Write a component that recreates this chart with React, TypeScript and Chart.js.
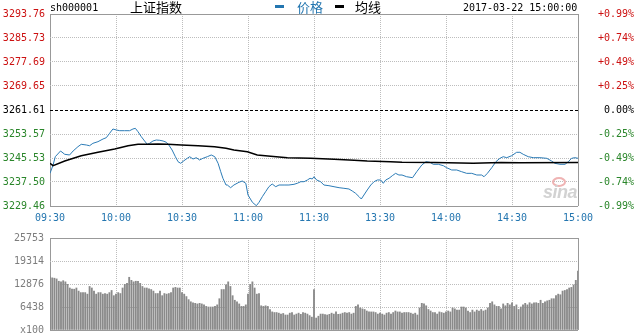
import React, { useEffect, useRef } from 'react';
import { Chart, registerables } from 'chart.js';

Chart.register(...registerables);

// ---------- data ----------
const stockCode = 'sh000001';
const stockName = '上证指数';
const legendPrice = '价格';
const legendAvg = '均线';
const stampText = '2017-03-22 15:00:00';

const PREV_CLOSE = 3261.61;
const priceTicks = [3229.46, 3237.5, 3245.53, 3253.57, 3261.61, 3269.65, 3277.69, 3285.73, 3293.76];
const pctLabels = ['-0.99%', '-0.74%', '-0.49%', '-0.25%', '0.00%', '+0.25%', '+0.49%', '+0.74%', '+0.99%'];
const timeTicks = [0, 30, 60, 90, 120, 150, 180, 210, 240];
const timeLabels = ['09:30', '10:00', '10:30', '11:00', '11:30', '13:30', '14:00', '14:30', '15:00'];

// minute index (0 = 09:30, 120 = 11:30/13:00, 240 = 15:00)
const priceMinutes = [
  0, 1.4, 2.4, 4.8, 6.7, 8.9, 10.5, 12.7, 14.2, 16.5, 18, 19.5, 21.8, 24.1, 25.6, 27.1, 28.6, 30.2, 31.7, 33.9,
  36.2, 37.7, 38.8, 40, 41.5, 43, 44.2, 45.3, 46.8, 48.3, 49.9, 51.4, 52.9, 54, 55.5, 57, 58.2, 59.4, 60.9, 62.4,
  63.5, 65, 66.5, 68, 69.5, 71.5, 73.3, 74.9, 76.4, 77.6, 78.6, 80, 80.6, 82.1, 83.6, 85.9, 87.4, 89, 90, 92,
  93.8, 95, 96.5, 98, 99.5, 101, 102.6, 104.1, 106.4, 108.6, 110.9, 112.4, 114, 115.5, 117, 118.2, 119.2, 120, 121.2, 123,
  124.5, 126.8, 129.1, 131.4, 133.6, 135.9, 137.4, 138.9, 140.5, 141.5, 142.7, 144.2, 145.8, 147.3, 148.8, 150.3, 151.5, 152.6, 154.1, 155.6,
  157.1, 158.6, 160, 162.1, 164.8, 166.7, 169, 170.9, 172.7, 174.2, 176.5, 178.8, 180.3, 182.6, 184.9, 187.1, 189.4, 191.7, 194, 196.2,
  197.3, 198.8, 200.8, 202.7, 204.5, 206, 207.6, 209.9, 212.1, 213.6, 215.1, 217.4, 219.7, 222.7, 225.8, 228, 229.5, 231.8, 234.1, 235.6,
  237.1, 238.6, 240,
];
const priceValues = [
  3240.4, 3243.19, 3245.97, 3247.88, 3246.77, 3246.54, 3247.88, 3249.32, 3250.12, 3249.89, 3249.65, 3250.45, 3251.0, 3251.9, 3252.34, 3253.81, 3255.25, 3254.91, 3254.68, 3254.68,
  3254.68, 3255.25, 3255.47, 3254.34, 3252.67, 3251.23, 3250.12, 3250.46, 3251.23, 3251.56, 3251.46, 3251.23, 3250.79, 3249.89, 3248.21, 3245.97, 3244.3, 3243.76, 3244.63, 3245.43,
  3245.97, 3245.2, 3245.64, 3244.87, 3245.43, 3245.97, 3246.54, 3245.97, 3243.76, 3240.95, 3238.74, 3236.49, 3236.49, 3235.59, 3236.49, 3237.4, 3237.83, 3237.06, 3233.14, 3230.7,
  3229.56, 3230.7, 3232.57, 3234.25, 3235.92, 3236.83, 3235.92, 3236.49, 3236.49, 3236.49, 3236.72, 3237.06, 3237.6, 3237.6, 3238.17, 3238.74, 3238.5, 3239.27, 3238.17, 3237.6,
  3236.49, 3236.26, 3235.92, 3235.59, 3235.39, 3235.15, 3234.48, 3233.71, 3232.57, 3231.8, 3233.14, 3234.82, 3236.49, 3237.6, 3238.17, 3238.17, 3237.06, 3238.17, 3238.74, 3239.61,
  3240.4, 3239.84, 3239.84, 3239.27, 3238.94, 3240.95, 3243.19, 3244.3, 3244.09, 3243.43, 3243.43, 3242.96, 3242.29, 3241.52, 3241.52, 3240.95, 3240.4, 3240.4, 3239.84, 3239.84,
  3239.27, 3240.4, 3242.29, 3244.3, 3245.43, 3245.97, 3245.64, 3246.31, 3247.44, 3247.44, 3246.77, 3245.97, 3245.64, 3245.64, 3245.43, 3244.53, 3243.76, 3243.43, 3243.43, 3244.3,
  3245.43, 3245.64, 3245.43,
];

const avgMinutes = [0, 1.4, 6.7, 14.2, 21.8, 29.4, 35.5, 40, 44.5, 49.1, 53.6, 59.7, 67.3, 74.8, 80, 83.6, 89.7, 94.2, 100.3, 107.9, 118.5, 129.1, 138.2, 144.2, 154.8, 160, 175, 192.4, 205, 213.6, 240];
const avgValues = [3243.76, 3242.96, 3244.53, 3246.31, 3247.44, 3248.55, 3249.65, 3250.12, 3250.12, 3250.22, 3250.12, 3249.89, 3249.65, 3249.32, 3248.78, 3248.21, 3247.65, 3246.54, 3246.1, 3245.64, 3245.43, 3245.1, 3244.76, 3244.53, 3244.3, 3244.09, 3244.0, 3243.76, 3244.0, 3243.96, 3244.0];

// volume per minute, units of 100 shares (index 0..240)
const volumeValues = [
  14900, 14600, 14500, 14300, 13650, 13480, 13800, 13480, 12790, 11760, 11420, 11420, 11760, 10900, 10470, 10470, 10470, 10040, 12190, 11760,
  10900, 10040, 10470, 10470, 10040, 10210, 10040, 10470, 11070, 9610, 10040, 10470, 10210, 11760, 12790, 13050, 14760, 13900, 13480, 13650,
  13650, 13050, 12190, 11760, 11760, 11500, 11330, 10900, 10210, 10210, 10900, 9610, 10210, 10040, 10210, 10470, 11760, 11930, 11760, 11760,
  10470, 10040, 9360, 8500, 7900, 7640, 7470, 7300, 7470, 7300, 7040, 6610, 6440, 6440, 6440, 6610, 7040, 8760, 11330, 11330,
  12620, 13480, 12190, 9610, 8330, 7900, 7300, 6610, 6610, 7040, 10040, 12790, 13480, 11760, 10040, 10210, 6780, 6610, 6780, 6610,
  5750, 5070, 4890, 4890, 4720, 4460, 4630, 4200, 4200, 4720, 4890, 4200, 4460, 4720, 4380, 4890, 4720, 4460, 4030, 3600,
  11330, 3350, 3860, 4460, 4460, 4290, 4200, 4380, 4720, 4460, 5060, 4380, 4460, 4720, 4890, 4720, 4890, 4460, 4720, 6610,
  7040, 6180, 5920, 5750, 5320, 5060, 5060, 5060, 4890, 4460, 4720, 4460, 4200, 4720, 4890, 4460, 4890, 5320, 5060, 5060,
  4720, 4890, 4890, 4890, 4720, 4460, 4720, 4200, 6180, 7470, 7300, 6780, 5750, 5320, 4890, 4890, 4460, 5060, 4890, 4720,
  5060, 5320, 5060, 6180, 5920, 5580, 5580, 6440, 6440, 6180, 5320, 4890, 5580, 5060, 5580, 5320, 5750, 5320, 5580, 6180,
  7470, 7900, 7040, 6610, 6610, 5920, 7300, 6780, 7470, 7040, 7640, 6610, 7040, 5750, 6440, 7040, 7470, 7040, 7640, 7300,
  7640, 7640, 7470, 8330, 7470, 7900, 8160, 8330, 8760, 8760, 9610, 10040, 9870, 10900, 11070, 11330, 11760, 11930, 12620, 13900,
  16480,
];
const volumeTicks = [0, 6438, 12876, 19314, 25753];
const volumeLabels = ['x100', '6438', '12876', '19314', '25753'];

// ---------- styles ----------
const MONO = "'DejaVu Sans Mono', monospace";
const CJK = "'Noto Sans CJK SC', sans-serif";
const RED = '#cc1111';
const GREEN = '#2a862a';
const BLUE = '#2476b0';
const PRICE_LINE = '#2b7bb6';
const GRID = '#bdbdbd';
const FRAME = '#999999';

export default function App() {
  const priceRef = useRef<HTMLCanvasElement>(null);
  const volRef = useRef<HTMLCanvasElement>(null);

  useEffect(() => {
    document.body.style.margin = '0';
    const font = { family: MONO, size: 10 };
    const colorFor = (v: number) => (v > PREV_CLOSE + 0.001 ? RED : v < PREV_CLOSE - 0.001 ? GREEN : '#000');

    const xAxis = (showLabels: boolean, height: number) => ({
      type: 'linear' as const,
      min: 0,
      max: 240,
      position: 'bottom' as const,
      offset: false,
      afterBuildTicks: (s: any) => {
        s.ticks = timeTicks.map((v) => ({ value: v }));
      },
      afterFit: (s: any) => {
        s.height = height;
      },
      ticks: {
        display: showLabels,
        autoSkip: false,
        maxRotation: 0,
        padding: 6,
        font,
        color: BLUE,
        callback: (_v: any, i: number) => timeLabels[i],
      },
      grid: {
        offset: false,
        drawTicks: false,
        lineWidth: 1,
        color: (c: any) => (c.index === 0 || c.index === timeTicks.length - 1 ? FRAME : GRID),
      },
      border: {
        display: false,
        dash: (c: any) => (c.index === 0 || c.index === timeTicks.length - 1 ? [] : [1, 1]),
      },
    });

    const price = new Chart(priceRef.current!, {
      type: 'line',
      data: {
        datasets: [
          {
            label: legendPrice,
            data: priceMinutes.map((m, i) => ({ x: m, y: priceValues[i] })),
            borderColor: PRICE_LINE,
            borderWidth: 1,
            pointRadius: 0,
            tension: 0,
            order: 2,
          },
          {
            label: legendAvg,
            data: avgMinutes.map((m, i) => ({ x: m, y: avgValues[i] })),
            borderColor: '#000',
            borderWidth: 1.5,
            pointRadius: 0,
            tension: 0,
            order: 1,
          },
        ],
      },
      options: {
        responsive: false,
        animation: false,
        events: [],
        layout: { padding: { top: 14, left: 0, right: 0, bottom: 0 } },
        plugins: { legend: { display: false }, tooltip: { enabled: false }, title: { display: false } },
        scales: {
          x: xAxis(true, 20),
          y: {
            type: 'linear',
            position: 'left',
            min: priceTicks[0],
            max: priceTicks[priceTicks.length - 1],
            afterBuildTicks: (s: any) => {
              s.ticks = priceTicks.map((v) => ({ value: v }));
            },
            afterFit: (s: any) => {
              s.width = 50;
            },
            ticks: {
              autoSkip: false,
              padding: 5,
              font,
              color: (c: any) => colorFor(priceTicks[c.index]),
              callback: (_v: any, i: number) => priceTicks[i].toFixed(2),
            },
            grid: {
              drawTicks: false,
              color: (c: any) =>
                c.index === 4 ? '#000' : c.index === 0 || c.index === priceTicks.length - 1 ? FRAME : GRID,
            },
            border: {
              display: false,
              dash: (c: any) =>
                c.index === 4 ? [3, 2] : c.index === 0 || c.index === priceTicks.length - 1 ? [] : [1, 1],
            },
          },
          y2: {
            type: 'linear',
            position: 'right',
            min: priceTicks[0],
            max: priceTicks[priceTicks.length - 1],
            afterBuildTicks: (s: any) => {
              s.ticks = priceTicks.map((v) => ({ value: v }));
            },
            afterFit: (s: any) => {
              s.width = 56;
            },
            ticks: {
              autoSkip: false,
              padding: 4,
              crossAlign: 'far',
              font,
              color: (c: any) => colorFor(priceTicks[c.index]),
              callback: (_v: any, i: number) => pctLabels[i],
            },
            grid: { display: false, drawTicks: false },
            border: { display: false },
          },
        },
      },
    } as any);

    const volume = new Chart(volRef.current!, {
      type: 'bar',
      data: {
        datasets: [
          {
            label: 'volume',
            data: volumeValues.map((v, i) => ({ x: i, y: v })),
            backgroundColor: '#8a8a8a',
            barThickness: 1.2,
            borderWidth: 0,
          },
        ],
      },
      options: {
        responsive: false,
        animation: false,
        events: [],
        layout: { padding: { top: 8, left: 0, right: 56, bottom: 0 } },
        plugins: { legend: { display: false }, tooltip: { enabled: false } },
        scales: {
          x: { ...xAxis(false, 8), z: 1 },
          y: {
            type: 'linear',
            position: 'left',
            min: 0,
            max: volumeTicks[volumeTicks.length - 1],
            z: 1,
            afterBuildTicks: (s: any) => {
              s.ticks = volumeTicks.map((v) => ({ value: v }));
            },
            afterFit: (s: any) => {
              s.width = 50;
            },
            ticks: {
              autoSkip: false,
              padding: 6,
              font,
              color: '#7d7d7d',
              callback: (_v: any, i: number) => volumeLabels[i],
            },
            grid: {
              drawTicks: false,
              color: (c: any) => (c.index === 0 || c.index === volumeTicks.length - 1 ? FRAME : GRID),
            },
            border: {
              display: false,
              dash: (c: any) => (c.index === 0 || c.index === volumeTicks.length - 1 ? [] : [1, 1]),
            },
          },
        },
      },
    } as any);

    return () => {
      price.destroy();
      volume.destroy();
    };
  }, []);

  const abs = (s: React.CSSProperties): React.CSSProperties => ({ position: 'absolute', whiteSpace: 'nowrap', ...s });

  return (
    <div style={{ position: 'fixed', left: 0, top: 0, width: 634, height: 336, overflow: 'hidden', background: '#fff' }}>
      <canvas ref={priceRef} width={634} height={226} style={{ position: 'absolute', left: 0, top: 0, width: 634, height: 226 }} />
      <canvas ref={volRef} width={634} height={116} style={{ position: 'absolute', left: 0, top: 226, width: 634, height: 116 }} />
      <span style={abs({ left: 50, top: 2, font: `10px ${MONO}`, lineHeight: '12px', color: '#000' })}>{stockCode}</span>
      <span style={abs({ left: 130, top: 0, font: `13px ${CJK}`, lineHeight: '14px', color: '#000' })}>{stockName}</span>
      <span style={abs({ left: 275, top: 5, width: 9, height: 3, background: BLUE })} />
      <span style={abs({ left: 297, top: 0, font: `13px ${CJK}`, lineHeight: '14px', color: BLUE })}>{legendPrice}</span>
      <span style={abs({ left: 335, top: 5, width: 9, height: 3, background: '#000' })} />
      <span style={abs({ left: 355, top: 0, font: `13px ${CJK}`, lineHeight: '14px', color: '#000' })}>{legendAvg}</span>
      <span style={abs({ left: 463, top: 2, font: `10px ${MONO}`, lineHeight: '12px', color: '#000' })}>{stampText}</span>
      <span
        style={abs({
          left: 552,
          top: 177,
          width: 10,
          height: 6,
          border: '2px solid #efb3b3',
          borderRadius: '50%',
        })}
      />
      <span
        style={abs({
          left: 543,
          top: 183,
          font: `italic bold 18px 'Liberation Sans', sans-serif`,
          lineHeight: '18px',
          color: '#d2d2d2',
          letterSpacing: '-0.5px',
        })}
      >
        sina
      </span>
    </div>
  );
}
